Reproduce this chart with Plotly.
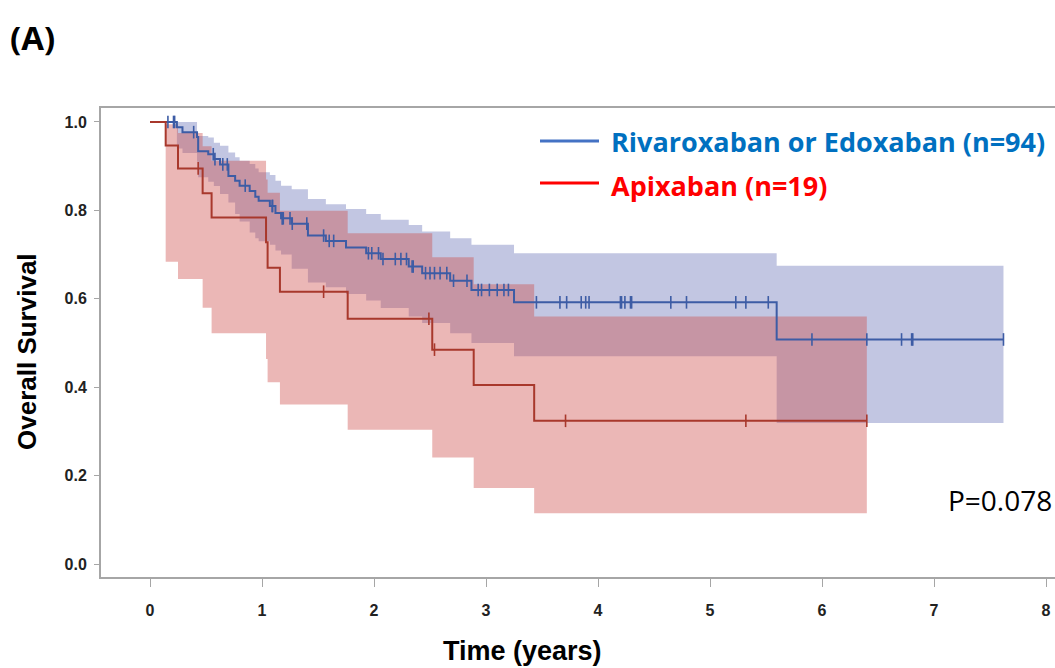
import plotly.graph_objects as go

# ---------------- data ----------------
# Rivaroxaban or Edoxaban (n=94): step times (years) and survival after each step
blue_times = [0, 0.24, 0.29, 0.42, 0.43, 0.52, 0.57, 0.625, 0.70, 0.76, 0.80, 0.89, 0.94, 0.97,
              1.07, 1.12, 1.17, 1.265, 1.41, 1.57, 1.75, 1.93, 2.06, 2.31, 2.43, 2.68, 2.87,
              3.25, 5.595]
blue_surv = [1.0, 0.988, 0.977, 0.966, 0.934, 0.927, 0.916, 0.904, 0.878, 0.867, 0.856, 0.844,
             0.831, 0.822, 0.810, 0.794, 0.782, 0.770, 0.743, 0.731, 0.716, 0.703, 0.690, 0.673,
             0.658, 0.641, 0.620, 0.592, 0.508]
blue_upper = [1.0, 1.0, 1.0, 0.968, 0.968, 0.965, 0.953, 0.946, 0.931, 0.920, 0.912, 0.905,
              0.895, 0.886, 0.880, 0.867, 0.856, 0.848, 0.826, 0.814, 0.803, 0.792, 0.779,
              0.767, 0.752, 0.737, 0.722, 0.703, 0.675]
blue_lower = [1.0, 0.94, 0.93, 0.91, 0.875, 0.865, 0.855, 0.837, 0.818, 0.792, 0.775, 0.750,
              0.737, 0.730, 0.722, 0.709, 0.700, 0.668, 0.637, 0.626, 0.611, 0.596, 0.579,
              0.560, 0.545, 0.522, 0.500, 0.470, 0.319]
blue_end = 7.62
blue_censor = [0.16, 0.21, 0.22, 0.39, 0.565, 0.58, 0.65, 0.69, 0.85, 1.09, 1.095, 1.18, 1.19,
               1.25, 1.27, 1.40, 1.55, 1.60, 1.64, 1.95, 1.98, 2.04, 2.08, 2.19, 2.24, 2.29,
               2.34, 2.35, 2.46, 2.50, 2.54, 2.59, 2.65, 2.71, 2.83, 2.93, 2.96, 3.03, 3.10,
               3.16, 3.20, 3.45, 3.66, 3.72, 3.85, 3.89, 3.92, 4.20, 4.21, 4.24, 4.29, 4.30,
               4.65, 4.79, 5.23, 5.32, 5.52, 5.91, 6.40, 6.71, 6.80, 6.81, 7.62]

# Apixaban (n=19)
red_times = [0, 0.14, 0.25, 0.47, 0.55, 1.036, 1.05, 1.16, 1.765, 2.52, 2.89, 3.43]
red_surv = [1.0, 0.947, 0.895, 0.839, 0.784, 0.728, 0.670, 0.616, 0.555, 0.485, 0.405, 0.324]
red_upper = [1.0, 0.995, 0.975, 0.945, 0.912, 0.870, 0.840, 0.799, 0.748, 0.694, 0.633, 0.560]
red_lower = [1.0, 0.684, 0.645, 0.580, 0.522, 0.464, 0.411, 0.361, 0.304, 0.241, 0.172, 0.115]
red_end = 6.40
red_censor = [0.43, 1.55, 2.49, 2.54, 3.71, 5.32, 6.40]

x_ticks = [0, 1, 2, 3, 4, 5, 6, 7, 8]
y_ticks = [0.0, 0.2, 0.4, 0.6, 0.8, 1.0]

label_blue = "Rivaroxaban or Edoxaban (n=94)"
label_red = "Apixaban (n=19)"
p_text = "P=0.078"

# ---------------- helpers ----------------
def extend(times, vals, end):
    return list(times) + [end], list(vals) + [vals[-1]]

def step_value(times, vals, t):
    v = vals[0]
    for ti, vi in zip(times, vals):
        if ti <= t:
            v = vi
    return v

BLUE_LINE = "#3D5CA5"
RED_LINE = "#A8382C"
BLUE_FILL = "rgba(194,198,226,1)"
RED_FILL = "rgba(205,75,72,0.40)"

fig = go.Figure()

# confidence bands
for times, up, lo, end, fill in [
    (blue_times, blue_upper, blue_lower, blue_end, BLUE_FILL),
    (red_times, red_upper, red_lower, red_end, RED_FILL),
]:
    xu, yu = extend(times, up, end)
    xl, yl = extend(times, lo, end)
    fig.add_trace(go.Scatter(x=xu, y=yu, mode="lines", line=dict(width=0, shape="hv"),
                             hoverinfo="skip", showlegend=False))
    fig.add_trace(go.Scatter(x=xl, y=yl, mode="lines", line=dict(width=0, shape="hv"),
                             fill="tonexty", fillcolor=fill, hoverinfo="skip", showlegend=False))

# survival curves
for times, surv, end, color, cens in [
    (blue_times, blue_surv, blue_end, BLUE_LINE, blue_censor),
    (red_times, red_surv, red_end, RED_LINE, red_censor),
]:
    xs, ys = extend(times, surv, end)
    fig.add_trace(go.Scatter(x=xs, y=ys, mode="lines", line=dict(color=color, width=2, shape="hv"),
                             showlegend=False))
    fig.add_trace(go.Scatter(x=cens, y=[step_value(times, surv, c) for c in cens], mode="markers",
                             marker=dict(symbol="line-ns-open", size=9, color=color,
                                         line=dict(color=color, width=1.6)),
                             showlegend=False))

# ---------------- layout ----------------
W, H = 1055, 668
L, R, T, B = 101, 0, 108, 91
pw, ph = W - L - R, H - T - B

def px(xpix):
    return (xpix - L) / pw

def py(ypix):
    return (H - B - ypix) / ph

tick_font = dict(family="Liberation Sans Narrow, Arial Narrow, sans-serif",
                 size=16, color="#222222", weight="bold")
axis_line = "#A6A6A6"

fig.update_layout(
    width=W, height=H,
    margin=dict(l=L, r=R, t=T, b=B, pad=0, autoexpand=False),
    paper_bgcolor="white", plot_bgcolor="white",
    showlegend=False,
    xaxis=dict(range=[-0.4375, 8.08], tickvals=x_ticks, ticktext=[str(v) for v in x_ticks],
               showgrid=False, zeroline=False, showline=True, linecolor=axis_line, linewidth=2,
               mirror=True, ticks="outside", ticklen=8, tickcolor=axis_line, tickwidth=1,
               tickfont=tick_font, ticklabelstandoff=10, automargin=False),
    yaxis=dict(range=[-0.0293, 1.0316], tickvals=y_ticks, ticktext=[f"{v:.1f}" for v in y_ticks],
               showgrid=False, zeroline=False, showline=True, linecolor=axis_line, linewidth=2,
               ticks="outside", ticklen=5, tickcolor=axis_line, tickwidth=1,
               tickfont=tick_font, ticklabelstandoff=4, automargin=False),
)

title_font_x = dict(family="Liberation Sans Narrow, Arial Narrow, sans-serif",
                    size=27, color="black", weight="bold")
title_font_y = dict(family="Liberation Sans Narrow, Arial Narrow, sans-serif",
                    size=26, color="black", weight="bold")
label_font = "Open Sans, Noto Sans, sans-serif"

annotations = [
    dict(text="Time (years)", x=px(522), y=py(651), xref="paper", yref="paper",
         xanchor="center", yanchor="middle", showarrow=False, font=title_font_x),
    dict(text="Overall Survival", x=px(27), y=py(352), xref="paper", yref="paper",
         xanchor="center", yanchor="middle", showarrow=False, textangle=-90, font=title_font_y),
    dict(text="(A)", x=px(8), y=py(37), xref="paper", yref="paper",
         xanchor="left", yanchor="middle", showarrow=False,
         font=dict(family=label_font, size=33, color="black", weight="bold")),
    dict(text=p_text, x=px(1054), y=py(500), xref="paper", yref="paper",
         xanchor="right", yanchor="middle", showarrow=False,
         font=dict(family=label_font, size=28, color="black")),
    dict(text=label_blue, x=px(609), y=py(141), xref="paper", yref="paper",
         xanchor="left", yanchor="middle", showarrow=False,
         font=dict(family=label_font, size=27, color="#0070C0", weight="bold")),
    dict(text=label_red, x=px(609), y=py(185), xref="paper", yref="paper",
         xanchor="left", yanchor="middle", showarrow=False,
         font=dict(family=label_font, size=27, color="#FF0000", weight="bold")),
]
fig.update_layout(annotations=annotations)

fig.add_shape(type="line", xref="paper", yref="paper", x0=px(540), x1=px(599),
              y0=py(141), y1=py(141), line=dict(color="#4472C4", width=3))
fig.add_shape(type="line", xref="paper", yref="paper", x0=px(540), x1=px(599),
              y0=py(183), y1=py(183), line=dict(color="#FF0000", width=3))

fig.write_html("out.html", config={"displayModeBar": False})

# remove the default page margin so the figure sits at the window's top-left corner
with open("out.html", "r", encoding="utf-8") as f:
    html = f.read()
html = html.replace("<body>", '<body style="margin:0;padding:0;overflow:hidden">', 1)
with open("out.html", "w", encoding="utf-8") as f:
    f.write(html)
